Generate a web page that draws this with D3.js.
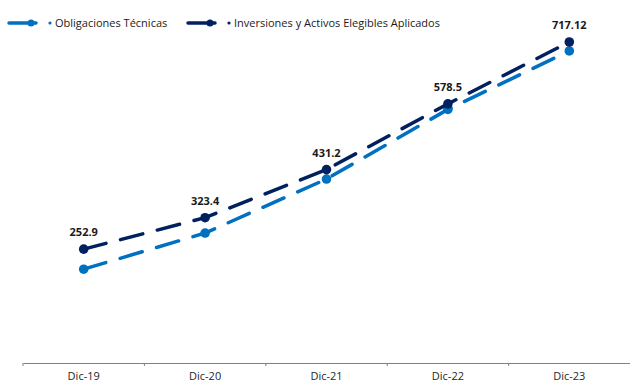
<!DOCTYPE html>
<html><head><meta charset="utf-8">
<script src="https://cdn.jsdelivr.net/npm/d3@7/dist/d3.min.js"></script>
<style>
html,body{margin:0;padding:0;background:#fff;}
svg{display:block;font-family:"Open Sans",sans-serif;}
</style></head>
<body><svg id="c" width="630" height="386"></svg>
<script>
const categories = ["Dic-19","Dic-20","Dic-21","Dic-22","Dic-23"];
const obligaciones = [208, 289, 410, 566, 697];
const inversiones = [252.9, 323.4, 431.2, 578.5, 717.12];
const inversionesLabels = ["252.9","323.4","431.2","578.5","717.12"];
const seriesNames = ["Obligaciones Técnicas","Inversiones y Activos Elegibles Aplicados"];
const colors = ["#0070C0","#002060"];

const svg = d3.select("#c");
const x = d3.scaleBand().domain(categories).range([23, 630]);
const y = d3.scaleLinear().domain([0, 800]).range([362, 5]);

// axis
const ax = svg.append("g").attr("transform","translate(0,363)")
  .call(d3.axisBottom(x).tickSize(3).tickSizeOuter(0).tickPadding(6));
ax.select(".domain").attr("stroke","#808080").attr("stroke-width",1.2);
ax.selectAll(".tick line").attr("stroke","#808080").attr("x1",-x.bandwidth()/2).attr("x2",-x.bandwidth()/2);
ax.selectAll(".tick text").attr("font-family","Open Sans").attr("font-size","11px").attr("fill","#262626");

const line = d3.line().x((d,i)=>x(categories[i])+x.bandwidth()/2).y(d=>y(d));
const series = [obligaciones, inversiones];
series.forEach((s,k)=>{
  svg.append("path").datum(s).attr("d",line).attr("fill","none")
    .attr("stroke",colors[k]).attr("stroke-width",3.5)
    .attr("stroke-dasharray","23,15").attr("stroke-linecap","round");
  svg.selectAll(null).data(s).enter().append("circle")
    .attr("cx",(d,i)=>x(categories[i])+x.bandwidth()/2).attr("cy",d=>y(d))
    .attr("r",4.8).attr("fill",colors[k]);
});

svg.selectAll(null).data(inversiones).enter().append("text")
  .attr("x",(d,i)=>x(categories[i])+x.bandwidth()/2).attr("y",d=>y(d)-13)
  .attr("text-anchor","middle").attr("font-size","11px").attr("font-weight","bold")
  .attr("fill","#1a1a1a").text((d,i)=>inversionesLabels[i]);

// legend
const legX = [9, 188];
seriesNames.forEach((n,k)=>{
  const g = svg.append("g").attr("transform",`translate(${legX[k]},23)`);
  g.append("line").attr("x1",0).attr("x2",27).attr("y1",0).attr("y2",0)
    .attr("stroke",colors[k]).attr("stroke-width",3.5).attr("stroke-linecap","round");
  g.append("circle").attr("cx",22).attr("cy",0).attr("r",3.5).attr("fill",colors[k]);
  g.append("circle").attr("cx",41).attr("cy",0).attr("r",1.6).attr("fill",colors[k]);
  g.append("text").attr("x",46).attr("y",0).attr("dy","0.35em")
    .attr("font-size","11px").attr("fill","#1a1a1a").text(n);
});
</script></body></html>
